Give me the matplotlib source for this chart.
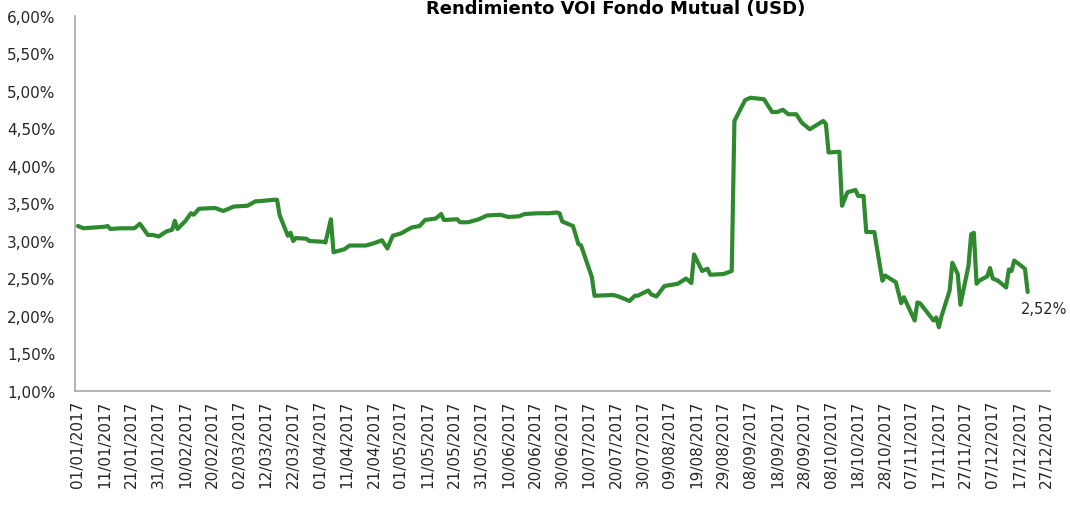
import matplotlib
matplotlib.use("Agg")
import matplotlib.pyplot as plt
import matplotlib.dates as mdates
from matplotlib.ticker import FuncFormatter, MultipleLocator
import pandas as pd

title = "Rendimiento VOI Fondo Mutual (USD)"
last_label = "2,52%"

dates = [
    "01/01", "03/01", "11/01", "12/01", "13/01", "17/01", "22/01", "24/01", "27/01", "29/01",
    "31/01", "03/02", "05/02", "06/02", "07/02", "10/02", "12/02", "13/02", "15/02", "21/02",
    "24/02", "28/02", "05/03", "08/03", "09/03", "15/03", "16/03", "17/03", "20/03", "21/03",
    "22/03", "23/03", "27/03", "28/03", "02/04", "03/04", "05/04", "06/04", "08/04", "10/04",
    "12/04", "18/04", "21/04", "24/04", "26/04", "28/04", "01/05", "05/05", "08/05", "10/05",
    "14/05", "16/05", "17/05", "22/05", "23/05", "26/05", "30/05", "02/06", "07/06", "10/06",
    "14/06", "16/06", "21/06", "25/06", "28/06", "29/06", "30/06", "04/07", "06/07", "07/07",
    "11/07", "12/07", "19/07", "21/07", "25/07", "27/07", "28/07", "01/08", "02/08", "04/08",
    "07/08", "12/08", "15/08", "17/08", "18/08", "21/08", "23/08", "24/08", "29/08", "01/09",
    "02/09", "04/09", "06/09", "08/09", "13/09", "16/09", "18/09", "20/09", "22/09", "25/09",
    "27/09", "30/09", "05/10", "06/10", "07/10", "11/10", "12/10", "14/10", "17/10", "18/10",
    "20/10", "21/10", "24/10", "27/10", "28/10", "01/11", "03/11", "04/11", "08/11", "09/11",
    "10/11", "15/11", "16/11", "17/11", "18/11", "21/11", "22/11", "24/11", "25/11", "28/11",
    "29/11", "30/11", "01/12", "02/12", "05/12", "06/12", "07/12", "09/12", "12/12", "13/12",
    "14/12", "15/12", "19/12", "20/12",
]
values = [
    3.20, 3.17, 3.19, 3.20, 3.16, 3.17, 3.17, 3.23, 3.08, 3.08,
    3.06, 3.13, 3.15, 3.27, 3.16, 3.27, 3.37, 3.35, 3.43, 3.44,
    3.40, 3.46, 3.47, 3.53, 3.53, 3.55, 3.55, 3.34, 3.07, 3.11,
    3.00, 3.04, 3.03, 3.00, 2.99, 2.98, 3.29, 2.85, 2.87, 2.89,
    2.94, 2.94, 2.97, 3.01, 2.90, 3.07, 3.10, 3.18, 3.20, 3.28,
    3.30, 3.36, 3.28, 3.29, 3.25, 3.25, 3.29, 3.34, 3.35, 3.32,
    3.33, 3.36, 3.37, 3.37, 3.38, 3.37, 3.26, 3.20, 2.96, 2.94,
    2.52, 2.27, 2.28, 2.26, 2.20, 2.27, 2.27, 2.34, 2.29, 2.26,
    2.40, 2.43, 2.50, 2.44, 2.82, 2.60, 2.63, 2.55, 2.56, 2.60,
    4.60, 4.74, 4.88, 4.91, 4.89, 4.72, 4.72, 4.75, 4.69, 4.69,
    4.58, 4.49, 4.60, 4.56, 4.18, 4.19, 3.47, 3.65, 3.68, 3.60,
    3.60, 3.12, 3.12, 2.47, 2.54, 2.45, 2.17, 2.25, 1.94, 2.18,
    2.17, 1.94, 1.98, 1.85, 2.00, 2.34, 2.71, 2.56, 2.15, 2.67,
    3.09, 3.11, 2.43, 2.47, 2.53, 2.64, 2.50, 2.47, 2.38, 2.62,
    2.60, 2.74, 2.63, 2.32,
]

x = pd.to_datetime([d + "/2017" for d in dates], format="%d/%m/%Y")

plt.rcParams['font.family'] = ['DejaVu Sans']
fig = plt.figure(figsize=(10.70, 5.06), dpi=100)
ax = fig.add_axes([75 / 1070, 114 / 506, 975 / 1070, 375 / 506])

ax.plot(x, values, color="#2f8a2f", linewidth=3.0, solid_joinstyle="round", solid_capstyle="round")

ax.set_ylim(1.0, 6.0)
ax.yaxis.set_major_locator(MultipleLocator(0.5))
ax.yaxis.set_major_formatter(FuncFormatter(lambda v, p: f"{v:.2f}%".replace(".", ",")))

start = pd.Timestamp("2017-01-01")
ticks = pd.date_range(start, "2017-12-27", freq="10D")
ax.set_xticks(ticks)
ax.xaxis.set_major_formatter(mdates.DateFormatter("%d/%m/%Y"))
ax.set_xlim(start - pd.Timedelta(days=1.1), start + pd.Timedelta(days=361.3))
for lab in ax.get_xticklabels():
    lab.set_rotation(90)

ax.tick_params(axis="both", length=0, labelsize=11, colors="#262626")
ax.tick_params(axis="x", pad=6)
ax.tick_params(axis="y", pad=14)

for s in ["top", "right"]:
    ax.spines[s].set_visible(False)
for s in ["left", "bottom"]:
    ax.spines[s].set_color("#a6a6a6")
    ax.spines[s].set_linewidth(1.2)

ax.annotate(last_label, xy=(x[-1], values[-1]), xytext=(-5, -12), textcoords="offset points",
            fontsize=10.5, color="#262626", ha="left", va="center")

fig.text(616 / 1070, 1.0, title, ha="center", va="top", fontsize=13, fontweight="bold")

fig.savefig("out.png", dpi=100)
